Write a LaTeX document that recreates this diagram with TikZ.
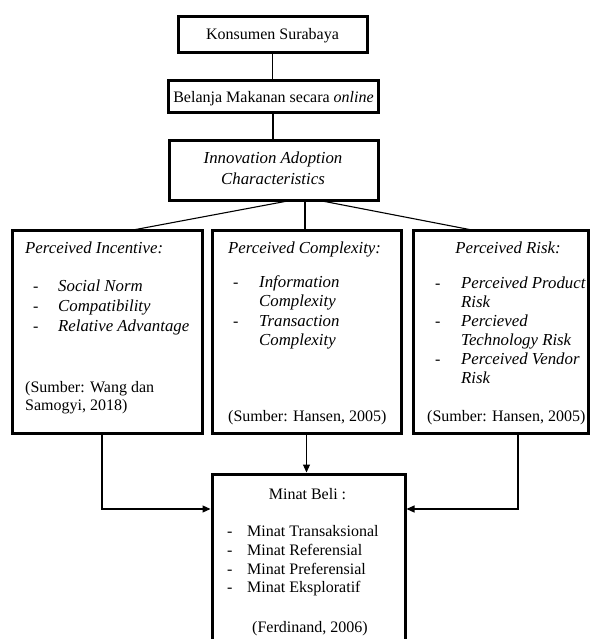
\documentclass[tikz,border=0pt]{standalone}
\usepackage{fontspec}
\setmainfont{Liberation Serif}
\usetikzlibrary{arrows.meta}
\newcommand{\itx}[1]{{\fontsize{16.8}{19.5}\selectfont\itshape #1}}
\begin{document}
\begin{tikzpicture}[x=1pt,y=-1pt,
  box/.style={draw, line width=3pt, rectangle, inner sep=0pt},
  conn/.style={line width=1.1pt},
  arr/.style={conn, -{Triangle[length=8pt,width=7pt]}},
  txt/.style={font=\fontsize{16}{19.5}\selectfont, inner sep=0pt},
  ]
\useasboundingbox (0,0) rectangle (591,639);
\fill[white] (0,0) rectangle (591,639);
\clip (0,0) rectangle (591,639);

% boxes
\node[box, minimum width=189pt, minimum height=36pt] (kons) at (272.5,35) {};
\node[box, minimum width=210pt, minimum height=32pt] (bel) at (273,97) {};
\node[box, minimum width=209pt, minimum height=59pt] (innov) at (273.5,170.5) {};
\node[box, minimum width=190pt, minimum height=203pt] (left) at (107,331.5) {};
\node[box, minimum width=189pt, minimum height=203pt] (mid) at (306.5,331.5) {};
\node[box, minimum width=175pt, minimum height=203pt] (right) at (500.5,331.5) {};
\node[box, minimum width=193pt, minimum height=206pt] (minat) at (308.5,577) {};

% texts
\node[txt, anchor=base] (konsT) at (272.5,40) {Konsumen Surabaya};
\node[txt, anchor=base] (belT) at (273.5,103) {Belanja Makanan secara \textit{online}};
\node[txt, anchor=base] (innT1) at (273,164) {\itx{Innovation Adoption}};
\node[txt, anchor=base] (innT2) at (273,185) {\itx{Characteristics}};

% left box
\node[txt, anchor=base west] (lT) at (25,253) {\itx{Perceived Incentive:}};
\node[txt, anchor=base west] (lb1) at (33,291) {-};
\node[txt, anchor=base west] (lb2) at (33,311) {-};
\node[txt, anchor=base west] (lb3) at (33,331) {-};
\node[txt, anchor=base west] (li1) at (58,291) {\itx{Social Norm}};
\node[txt, anchor=base west] (li2) at (58,311) {\itx{Compatibility}};
\node[txt, anchor=base west] (li3) at (58,331) {\itx{Relative Advantage}};
\node[txt, anchor=base west] (ls1) at (25,392) {(Sumber: Wang dan};
\node[txt, anchor=base west] (ls2) at (25,410) {Samogyi, 2018)};

% middle box
\node[txt, anchor=base west] (mT) at (228,253) {\itx{Perceived Complexity:}};
\node[txt, anchor=base west] (mb1) at (233,287) {-};
\node[txt, anchor=base west] (mb2) at (233,326) {-};
\node[txt, anchor=base west] (mi1) at (259,287) {\itx{Information}};
\node[txt, anchor=base west] (mi2) at (259,306.5) {\itx{Complexity}};
\node[txt, anchor=base west] (mi3) at (259,326) {\itx{Transaction}};
\node[txt, anchor=base west] (mi4) at (259,345.5) {\itx{Complexity}};
\node[txt, anchor=base west] (ms) at (228,421.5) {(Sumber: Hansen, 2005)};

% right box
\node[txt, anchor=base] (rT) at (508,253) {\itx{Perceived Risk:}};
\node[txt, anchor=base west] (rb1) at (435,288) {-};
\node[txt, anchor=base west] (rb2) at (435,326.5) {-};
\node[txt, anchor=base west] (rb3) at (435,364) {-};
\node[txt, anchor=base west] (ri1) at (461,288) {\itx{Perceived Product}};
\node[txt, anchor=base west] (ri2) at (461,307) {\itx{Risk}};
\node[txt, anchor=base west] (ri3) at (461,326.5) {\itx{Percieved}};
\node[txt, anchor=base west] (ri4) at (461,345) {\itx{Technology Risk}};
\node[txt, anchor=base west] (ri5) at (461,364) {\itx{Perceived Vendor}};
\node[txt, anchor=base west] (ri6) at (461,383) {\itx{Risk}};
\node[txt, anchor=base west] (rs) at (427,421.5) {(Sumber: Hansen, 2005)};

% minat box
\node[txt, anchor=base] (nT) at (307.5,499) {Minat Beli :};
\node[txt, anchor=base west] (nb1) at (227,536.5) {-};
\node[txt, anchor=base west] (nb2) at (227,555) {-};
\node[txt, anchor=base west] (nb3) at (227,574) {-};
\node[txt, anchor=base west] (nb4) at (227,592.5) {-};
\node[txt, anchor=base west] (ni1) at (247,536.5) {Minat Transaksional};
\node[txt, anchor=base west] (ni2) at (247,555) {Minat Referensial};
\node[txt, anchor=base west] (ni3) at (247,574) {Minat Preferensial};
\node[txt, anchor=base west] (ni4) at (247,592.5) {Minat Eksploratif};
\node[txt, anchor=base] (nS) at (310,632) {(Ferdinand, 2006)};

% connector coordinates
\coordinate (fanL) at (293,200);
\coordinate (fanM) at (305,200);
\coordinate (fanR) at (317,200);
\coordinate (leftTop) at (133,230);
\coordinate (midTop) at (305,230);
\coordinate (rightTop) at (472,230);
\coordinate (leftBot) at (102,433);
\coordinate (rightBot) at (518,433);
\coordinate (minL) at (210.5,509);
\coordinate (minR) at (406.5,509);

% connectors
\draw[conn] (kons.south) -- (kons.south |- bel.north);
\draw[conn] (bel.south) -- (bel.south |- innov.north);
\draw[conn] (fanL) -- (leftTop);
\draw[conn] (fanM) -- (midTop);
\draw[conn] (fanR) -- (rightTop);
\draw[arr] (mid.south) -- (mid.south |- minat.north);
\draw[arr] (leftBot) |- (minL);
\draw[arr] (rightBot) |- (minR);
\end{tikzpicture}
\end{document}
